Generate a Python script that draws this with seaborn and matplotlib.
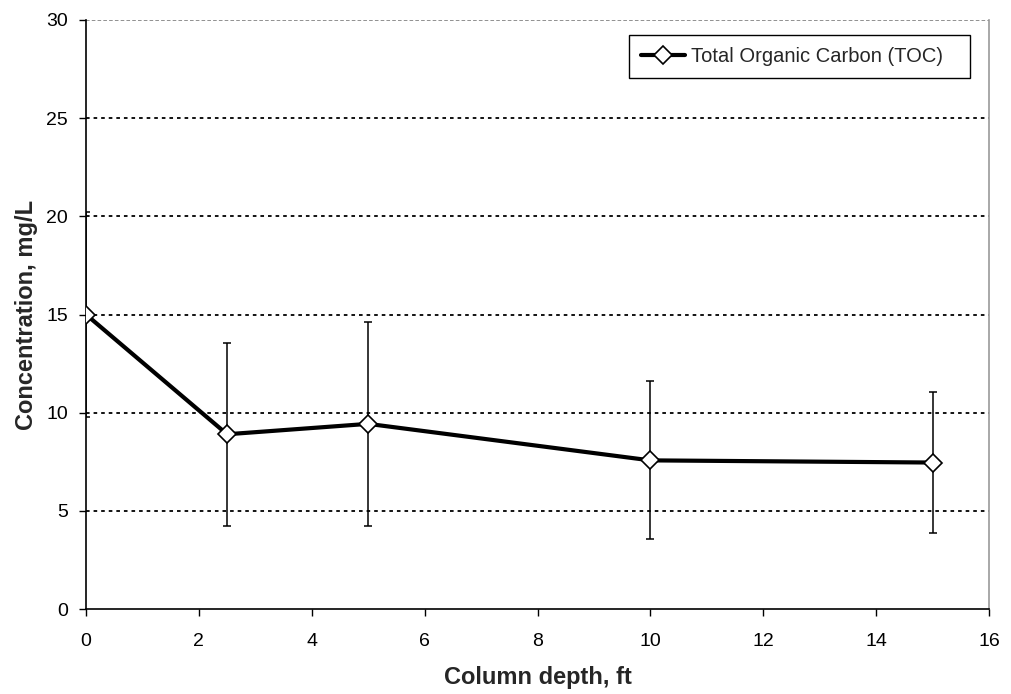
import matplotlib
matplotlib.use("Agg")
import matplotlib.pyplot as plt
import seaborn as sns
import pandas as pd

# Column sampling depths (ft) and TOC concentration (mg/L) with ± spread
depth_ft = [0, 2.5, 5, 10, 15]
toc_mg_l = [15.0, 8.9, 9.43, 7.57, 7.46]
toc_err = [5.2, 4.66, 5.2, 4.02, 3.6]
x_ticks = [0, 2, 4, 6, 8, 10, 12, 14, 16]
y_ticks = [0, 5, 10, 15, 20, 25, 30]
series_name = "Total Organic Carbon (TOC)"

df = pd.DataFrame({"depth": depth_ft, "toc": toc_mg_l, "err": toc_err})

sns.set_theme(style="white")
plt.rcParams["font.family"] = ["Liberation Sans", "DejaVu Sans"]

fig = plt.figure(figsize=(10.11, 6.94), dpi=100)
ax = fig.add_axes([86 / 1011, 1 - 609 / 694, (989 - 86) / 1011, (609 - 20) / 694])

# dotted horizontal gridlines
for yv in y_ticks[1:-1]:
    ax.axhline(yv, color="black", linestyle=(0, (2, 2.2)), linewidth=1.3, zorder=1)
ax.axhline(30, color="#888888", linestyle=(0, (2, 1.2)), linewidth=1.3, zorder=1)

ax.errorbar(df["depth"], df["toc"], yerr=df["err"], fmt="none", ecolor="black",
            elinewidth=1.1, capsize=3, capthick=1.1, zorder=2)

sns.lineplot(data=df, x="depth", y="toc", ax=ax, color="black", linewidth=3,
             marker="D", markersize=9.5, markerfacecolor="white",
             markeredgecolor="black", markeredgewidth=1.2, label=series_name,
             zorder=3)

ax.set_xlim(0, 16)
ax.set_ylim(0, 30)
ax.set_xticks(x_ticks)
ax.set_yticks(y_ticks)
ax.tick_params(axis="both", direction="out", length=5, width=1, colors="black",
               labelsize=14)
ax.tick_params(axis="x", pad=12)
ax.tick_params(axis="y", pad=8)
ax.tick_params(axis="both", which="both", left=True, bottom=True)

for side in ["left", "bottom"]:
    ax.spines[side].set_color("black")
    ax.spines[side].set_linewidth(1.2)
ax.spines["right"].set_color("#999999")
ax.spines["right"].set_linewidth(1.2)
ax.spines["top"].set_visible(False)

ax.set_xlabel("Column depth, ft", fontsize=17, fontweight="bold", labelpad=12)
ax.set_ylabel("Concentration, mg/L", fontsize=17, fontweight="bold", labelpad=6)

leg = ax.legend(loc="upper left", bbox_to_anchor=(0.601, 0.9015, 0.378, 0.073),
                mode="expand", fontsize=14.5, frameon=True, fancybox=False,
                framealpha=1, edgecolor="black", handlelength=2.2,
                borderpad=0.6, handletextpad=0.3, borderaxespad=0)
leg.get_frame().set_linewidth(1.0)

fig.savefig("out.png", dpi=100)
